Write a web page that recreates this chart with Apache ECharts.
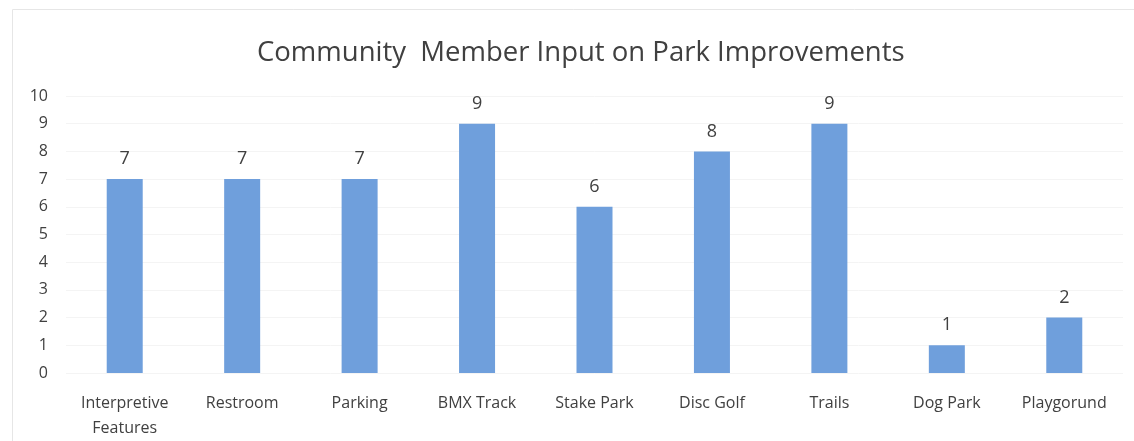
<!DOCTYPE html>
<html>
<head>
<meta charset="utf-8">
<script src="https://cdn.jsdelivr.net/npm/echarts@6/dist/echarts.min.js"></script>
<style>
html,body{margin:0;padding:0;background:#fff;}
#chart{width:1134px;height:441px;}
</style>
</head>
<body>
<div id="chart"></div>
<script>
const titleText = 'Community  Member Input on Park Improvements';
const categories = ['Interpretive\nFeatures', 'Restroom', 'Parking', 'BMX Track', 'Stake Park', 'Disc Golf', 'Trails', 'Dog Park', 'Playgorund'];
const values = [7, 7, 7, 9, 6, 8, 9, 1, 2];
const yTicks = [0, 1, 2, 3, 4, 5, 6, 7, 8, 9, 10];

const chart = echarts.init(document.getElementById('chart'), null, {renderer: 'canvas'});
const font = '"Open Sans", "Noto Sans", sans-serif';
chart.setOption({
  backgroundColor: '#ffffff',
  animation: false,
  textStyle: {fontFamily: font},
  graphic: [{
    type: 'rect',
    shape: {x: 12.5, y: 9.5, width: 1140, height: 460},
    style: {fill: 'none', stroke: '#e6e6e6', lineWidth: 1},
    silent: true
  }],
  title: {
    text: titleText,
    left: 252,
    top: 34,
    textStyle: {fontFamily: font, fontSize: 27.5, fontWeight: 'normal', color: '#404040'}
  },
  grid: {left: 66, right: 11, top: 96, bottom: 68},
  xAxis: {
    type: 'category',
    data: categories,
    axisLine: {show: false},
    axisTick: {show: false},
    axisLabel: {color: '#404040', fontSize: 16, fontFamily: font, margin: 18, lineHeight: 25, interval: 0}
  },
  yAxis: {
    type: 'value',
    min: yTicks[0],
    max: yTicks[yTicks.length - 1],
    interval: 1,
    axisLine: {show: false},
    axisTick: {show: false},
    splitLine: {lineStyle: {color: '#f4f4f4', width: 1}},
    axisLabel: {color: '#404040', fontSize: 16, fontFamily: font, margin: 18}
  },
  series: [{
    type: 'bar',
    data: values,
    barWidth: 36,
    itemStyle: {color: '#6f9fdc'},
    label: {show: true, position: 'top', distance: 11, color: '#404040', fontSize: 18, fontFamily: font}
  }]
});
</script>
</body>
</html>
